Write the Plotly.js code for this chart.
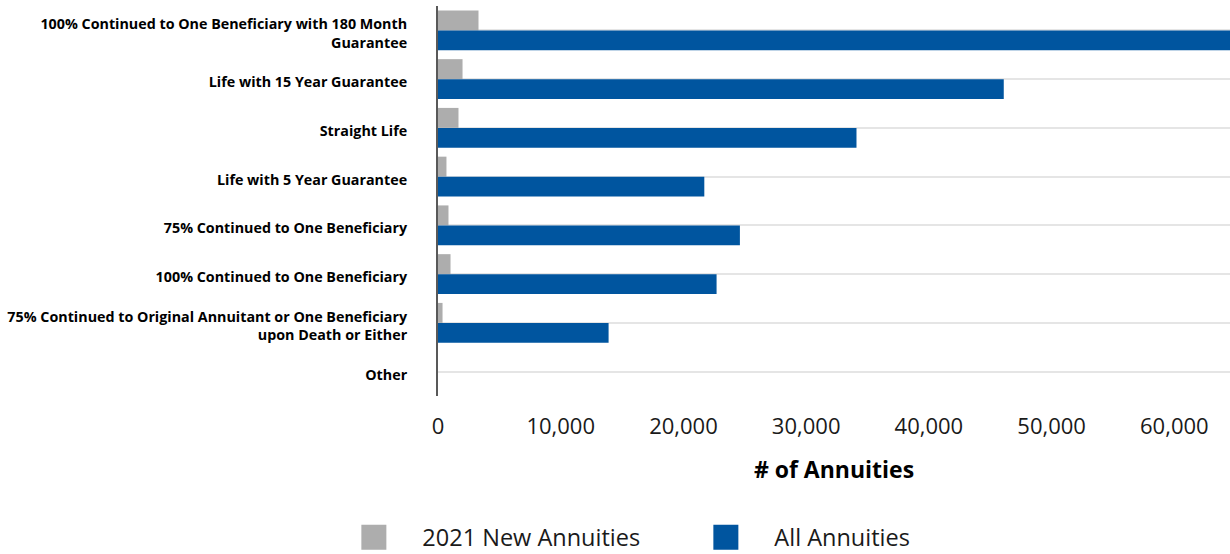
<!DOCTYPE html>
<html><head><meta charset="utf-8">
<script src="https://cdn.plot.ly/plotly-3.0.1.min.js"></script>
<style>html,body{margin:0;padding:0;background:#fff}#chart{width:1230px;height:554px}</style>
</head><body><div id="chart"></div>
<script>
const categories = [
  "100% Continued to One Beneficiary with 180 Month<br>Guarantee",
  "Life with 15 Year Guarantee",
  "Straight Life",
  "Life with 5 Year Guarantee",
  "75% Continued to One Beneficiary",
  "100% Continued to One Beneficiary",
  "75% Continued to Original Annuitant or One Beneficiary<br>upon Death or Either",
  "Other"
];
const newAnnuities2021 = [3300, 2000, 1670, 690, 855, 1020, 370, 0];
const allAnnuities = [65000, 46100, 34100, 21700, 24600, 22700, 13900, 0];
const seriesNames = ["2021 New Annuities", "All Annuities"];
const xTitle = "# of Annuities";

const FONT = '"Open Sans", "Noto Sans", sans-serif';

const traces = [
  {type: 'bar', orientation: 'h', name: seriesNames[0], y: categories, x: newAnnuities2021,
   marker: {color: '#adadad'}, hoverinfo: 'x+y'},
  {type: 'bar', orientation: 'h', name: seriesNames[1], y: categories, x: allAnnuities,
   marker: {color: '#00559f'}, hoverinfo: 'x+y'}
];

const layout = {
  width: 1230, height: 554,
  margin: {l: 437.5, r: 0, t: 5.6, b: 157.8},
  paper_bgcolor: '#fff', plot_bgcolor: '#fff',
  font: {family: FONT, color: '#000'},
  barmode: 'group', bargap: 0.181, bargroupgap: 0,
  showlegend: true,
  xaxis: {
    range: [0, 64535], dtick: 10000, tickformat: ',d',
    showgrid: false, zeroline: false, showline: false,
    ticks: '', ticklabelstandoff: 15,
    tickfont: {family: FONT, size: 22, color: '#1a1a1a'},
    title: {text: '<b>' + xTitle + '</b>', font: {family: FONT, size: 23, color: '#000'}, standoff: 22}
  },
  yaxis: {
    autorange: 'reversed', type: 'category',
    showgrid: true, gridcolor: '#e5e5e5', gridwidth: 2,
    showline: true, linecolor: '#595959', linewidth: 2,
    zeroline: false, ticks: '', ticklabelstandoff: 26, ticklabelshift: -3,
    tickfont: {family: FONT, size: 14.3, color: '#000', weight: 'bold'}
  },
  legend: {
    orientation: 'h', xref: 'container', yref: 'container',
    x: 0.5507, xanchor: 'center', y: 0.03, yanchor: 'middle',
    font: {family: FONT, size: 23.5, color: '#1a1a1a'},
    itemwidth: 87, entrywidth: 250, traceorder: 'normal'
  }
};

function bigSwatches() {
  document.querySelectorAll('#chart .legend .legendpoints path').forEach(function (p) {
    p.setAttribute('d', 'M12.5,12.5H-12.5V-12.5H12.5Z');
  });
}

Plotly.newPlot('chart', traces, layout, {staticPlot: true}).then(function (gd) {
  bigSwatches();
  gd.on && gd.on('plotly_afterplot', bigSwatches);
  setTimeout(bigSwatches, 0);
  setTimeout(bigSwatches, 100);
});
</script>
</body></html>
